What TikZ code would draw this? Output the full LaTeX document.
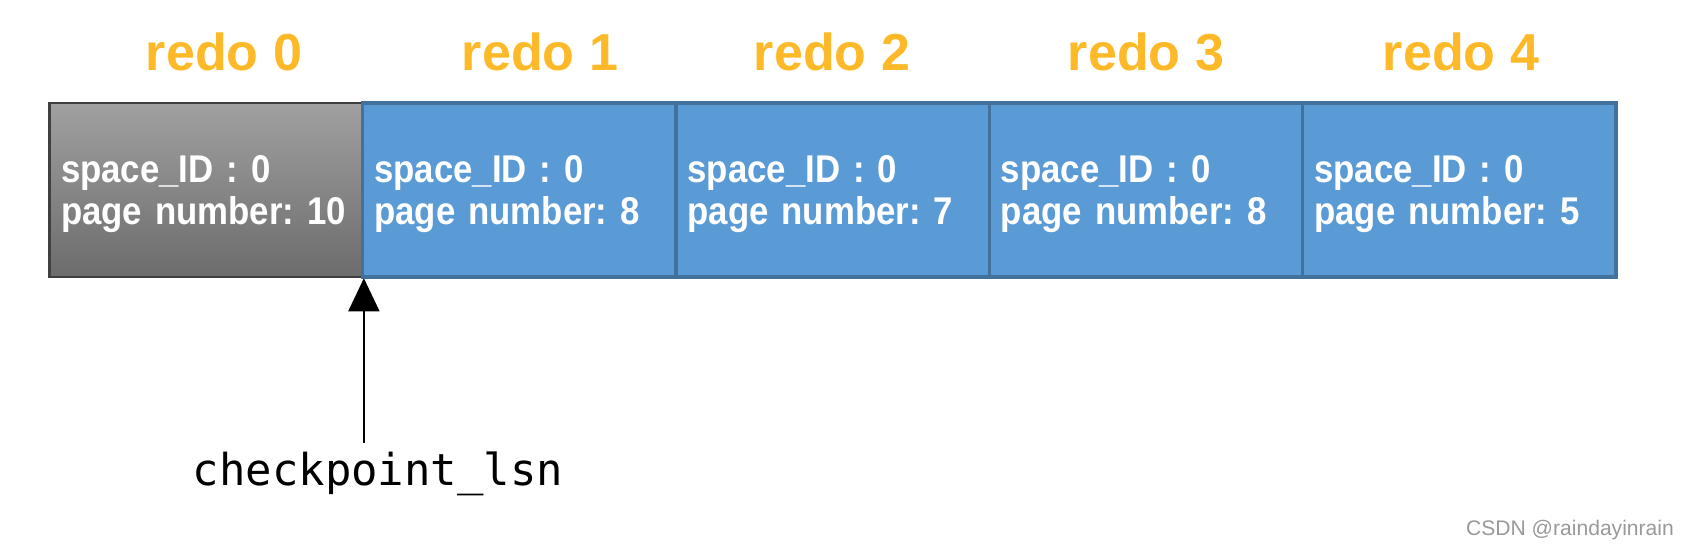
\documentclass[tikz,border=0pt]{standalone}
\usepackage{fontspec}
\setmainfont{Liberation Sans}
\newfontfamily\boxfont[FakeStretch=0.9]{Liberation Sans}
\newfontfamily\lsnfont{DejaVu Sans Mono}
\usetikzlibrary{arrows.meta,positioning}
\definecolor{redoorange}{RGB}{253,185,39}
\definecolor{redoblue}{RGB}{91,155,213}
\definecolor{redoedge}{RGB}{65,113,156}
\definecolor{graytop}{RGB}{160,160,160}
\definecolor{graybot}{RGB}{108,108,108}

\begin{document}
\begin{tikzpicture}
  \tikzstyle{redo}=[rectangle, draw=redoedge, line width=1pt, fill=redoblue, minimum width=3.133cm, minimum height=1.74cm, text width=2.9cm, inner xsep=0.115cm, align=left, text=white, font=\boxfont\bfseries\frenchspacing\fontsize{11}{12}\selectfont, execute at begin node=\rule{0pt}{9.8pt}]
  \tikzstyle{title}=[text=redoorange, font=\bfseries\fontsize{14.8}{16}\selectfont]

  \useasboundingbox (0,0) rectangle (16.87,-5.50);

  \node[redo, draw=black!75, line width=0.7pt, top color=graytop, bottom color=graybot] (r0) at (2.06,-1.90) {space\_ID : 0\\page number: 10};
  \node[redo] (r1) at (5.193,-1.90) {space\_ID : 0\\page number: 8};
  \node[redo] (r2) at (8.326,-1.90) {space\_ID : 0\\page number: 7};
  \node[redo] (r3) at (11.459,-1.90) {space\_ID : 0\\page number: 8};
  \node[redo] (r4) at (14.592,-1.90) {space\_ID : 0\\page number: 5};

  \node[title] (t0) at (2.24,-0.52) {redo 0};
  \node[title] (t1) at (5.40,-0.52) {redo 1};
  \node[title] (t2) at (8.32,-0.52) {redo 2};
  \node[title] (t3) at (11.46,-0.52) {redo 3};
  \node[title] (t4) at (14.61,-0.52) {redo 4};

  \node[inner sep=2.5pt, font=\lsnfont\fontsize{12.5}{14}\selectfont] (lsn) at (3.78,-4.74) {checkpoint\_lsn};
  \draw[-{Triangle[length=0.33cm, width=0.31cm]}, line width=0.5pt] (lsn.north -| r0.south east) -- (r0.south east);

  \node[text=black!40, font=\fontsize{6}{7}\selectfont] (mark) at (15.70,-5.30) {CSDN @raindayinrain};
\end{tikzpicture}
\end{document}
